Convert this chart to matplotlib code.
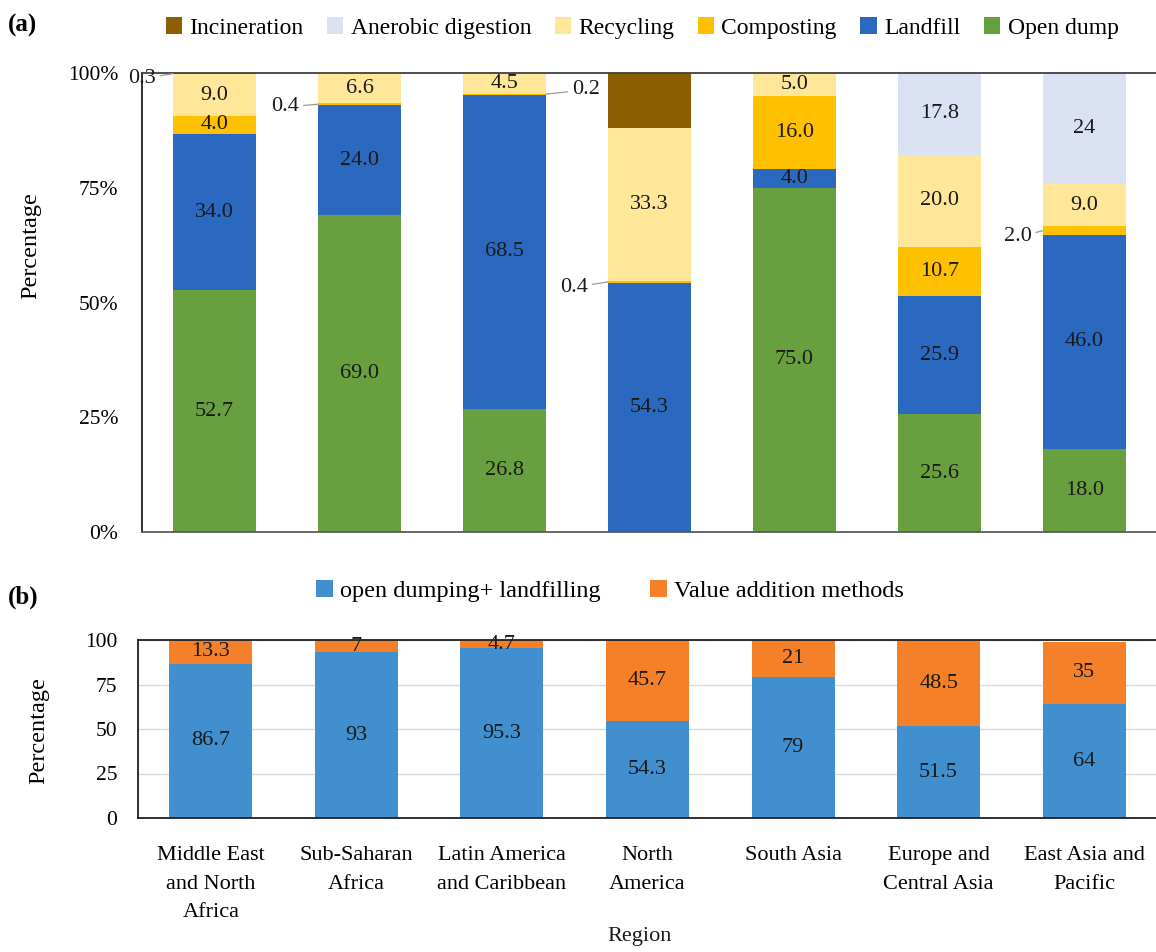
import matplotlib.pyplot as plt
import numpy as np

REGIONS = [
    "Middle East\nand North\nAfrica",
    "Sub-Saharan\nAfrica",
    "Latin America\nand Caribbean",
    "North\nAmerica",
    "South Asia",
    "Europe and\nCentral Asia",
    "East Asia and\nPacific",
]

# treatment shares per region (%), bottom to top
OPEN_DUMP = [52.7, 69.0, 26.8, 0.0, 75.0, 25.6, 18.0]
LANDFILL = [34.0, 24.0, 68.5, 54.3, 4.0, 25.9, 46.0]
COMPOSTING = [4.0, 0.4, 0.2, 0.4, 16.0, 10.7, 2.0]
RECYCLING = [9.0, 6.6, 4.5, 33.3, 5.0, 20.0, 9.0]
ANAEROBIC = [0.0, 0.0, 0.0, 0.0, 0.0, 17.8, 24.0]
INCINERATION = [0.3, 0.0, 0.0, 12.0, 0.0, 0.0, 0.0]

# aggregated view
DUMP_LANDFILL = [86.7, 93, 95.3, 54.3, 79, 51.5, 64]
VALUE_ADDITION = [13.3, 7, 4.7, 45.7, 21, 48.5, 35]

SERIES_A = [
    ("Open dump", OPEN_DUMP, "#68a040"),
    ("Landfill", LANDFILL, "#2b69c0"),
    ("Composting", COMPOSTING, "#ffc000"),
    ("Recycling", RECYCLING, "#ffe699"),
    ("Anerobic digestion", ANAEROBIC, "#d9e1f2"),
    ("Incineration", INCINERATION, "#8b5e00"),
]
LEGEND_ORDER_A = ["Incineration", "Anerobic digestion", "Recycling", "Composting", "Landfill", "Open dump"]

# segments labelled outside the bar: (series, region index, text x, text y)
CALLOUTS = [
    ("Incineration", 0, -0.50, 98.8),
    ("Composting", 1, 0.49, 92.6),
    ("Composting", 2, 2.56, 96.3),
    ("Composting", 3, 2.48, 53.3),
    ("Composting", 6, 5.54, 64.3),
]
UNLABELLED = {("Incineration", 3)}
LABEL_TEXT = {("Anerobic digestion", 6): "24"}

TEXT = "#1a1a1a"
LABEL_FS = 16
plt.rcParams["font.family"] = ["Liberation Serif", "DejaVu Serif"]
plt.rcParams["font.size"] = 16

fig = plt.figure(figsize=(11.56, 9.52), dpi=100)
W, H = 1156, 952


def px_axes(left, top, right, bottom):
    return fig.add_axes([left / W, 1 - bottom / H, (right - left) / W, (bottom - top) / H])


x = np.arange(len(REGIONS))
bar_w = 0.57
values_a = {name: vals for name, vals, _ in SERIES_A}

# panel (a): 100% stacked treatment shares
ax = px_axes(142, 73, 1157, 532)
totals = np.sum([s[1] for s in SERIES_A], axis=0)
bottom = np.zeros(len(REGIONS))
handles = {}
segments = {}
callout_set = {(c[0], c[1]) for c in CALLOUTS}
for name, vals, color in SERIES_A:
    vals = np.array(vals, dtype=float)
    pct = vals / totals * 100
    handles[name] = ax.bar(x, pct, bar_w, bottom=bottom, color=color, label=name)
    segments[name] = (bottom.copy(), pct)
    for i, (v, p, b) in enumerate(zip(vals, pct, bottom)):
        if v == 0 or (name, i) in callout_set or (name, i) in UNLABELLED:
            continue
        txt = LABEL_TEXT.get((name, i), f"{v:.1f}")
        ax.text(i, b + p / 2, txt, ha="center", va="center", color=TEXT, fontsize=LABEL_FS)
    bottom += pct

for name, i, tx, ty in CALLOUTS:
    b, p = segments[name]
    mid = b[i] + p[i] / 2
    edge = i - bar_w / 2 if tx < i else i + bar_w / 2
    ax.annotate(f"{values_a[name][i]:.1f}", xy=(edge, mid), xytext=(tx, ty), ha="center", va="center",
                color=TEXT, fontsize=LABEL_FS, annotation_clip=False,
                arrowprops=dict(arrowstyle="-", color="#9a9a9a", lw=0.9, shrinkA=1, shrinkB=0))

ax.set_xlim(-0.5, len(REGIONS) - 0.5)
ax.set_ylim(0, 100)
ax.set_yticks([0, 25, 50, 75, 100])
ax.set_yticklabels(["0%", "25%", "50%", "75%", "100%"])
ax.set_xticks([])
ax.tick_params(axis="y", length=0, pad=17, labelsize=15.5)
ax.spines["right"].set_visible(False)
ax.spines["left"].set_color("#202020")
ax.spines["top"].set_color("#404040")
ax.spines["bottom"].set_color("#5a5a5a")
for s in ["left", "top", "bottom"]:
    ax.spines[s].set_linewidth(1.3)
ax.set_ylabel("Percentage", fontsize=17.5)
ax.yaxis.set_label_coords(-0.099, 0.625)
fig.legend([handles[n] for n in LEGEND_ORDER_A], LEGEND_ORDER_A, loc="center",
           bbox_to_anchor=(642 / W, 1 - 28 / H), ncol=6, frameon=False, fontsize=17,
           handlelength=0.7, handleheight=0.7, handletextpad=0.3, columnspacing=1.0)

# panel (b): disposal vs value addition
bx = px_axes(138, 640, 1157, 818)
b1 = bx.bar(x, DUMP_LANDFILL, bar_w, color="#418fcf", zorder=2)
b2 = bx.bar(x, VALUE_ADDITION, bar_w, bottom=DUMP_LANDFILL, color="#f4802a", zorder=2)
for i, (lo, hi) in enumerate(zip(DUMP_LANDFILL, VALUE_ADDITION)):
    bx.text(i, lo / 2, f"{lo:g}", ha="center", va="center", color=TEXT, fontsize=LABEL_FS, zorder=3)
    bx.text(i, lo + hi / 2, f"{hi:g}", ha="center", va="center", color=TEXT, fontsize=LABEL_FS, zorder=3)
bx.set_xlim(-0.5, len(REGIONS) - 0.5)
bx.set_ylim(0, 100)
bx.set_yticks([0, 25, 50, 75, 100])
bx.yaxis.grid(True, color="#d9d9d9", lw=1, zorder=0)
bx.set_xticks(x)
bx.set_xticklabels(REGIONS, linespacing=1.7)
bx.tick_params(axis="y", length=0, pad=15, labelsize=15.5)
bx.tick_params(axis="x", length=0, pad=20, labelsize=16)
bx.spines["right"].set_visible(False)
for s in ["left", "top", "bottom"]:
    bx.spines[s].set_color("#202020")
    bx.spines[s].set_linewidth(1.3)
bx.set_ylabel("Percentage", fontsize=17.5)
bx.yaxis.set_label_coords(-0.087, 0.494)
fig.legend([b1, b2], ["open dumping+ landfilling", "Value addition methods"], loc="center",
           bbox_to_anchor=(610 / W, 1 - 591 / H), ncol=2, frameon=False, fontsize=17.5,
           handlelength=0.7, handleheight=0.7, handletextpad=0.3, columnspacing=2.0)

fig.text(640 / W, 1 - 936 / H, "Region", ha="center", va="center", fontsize=16, color=TEXT)
fig.text(8 / W, 1 - 25 / H, "(a)", ha="left", va="center", fontsize=18, fontweight="bold")
fig.text(8 / W, 1 - 597 / H, "(b)", ha="left", va="center", fontsize=18, fontweight="bold")

fig.savefig("out.png", dpi=100)
